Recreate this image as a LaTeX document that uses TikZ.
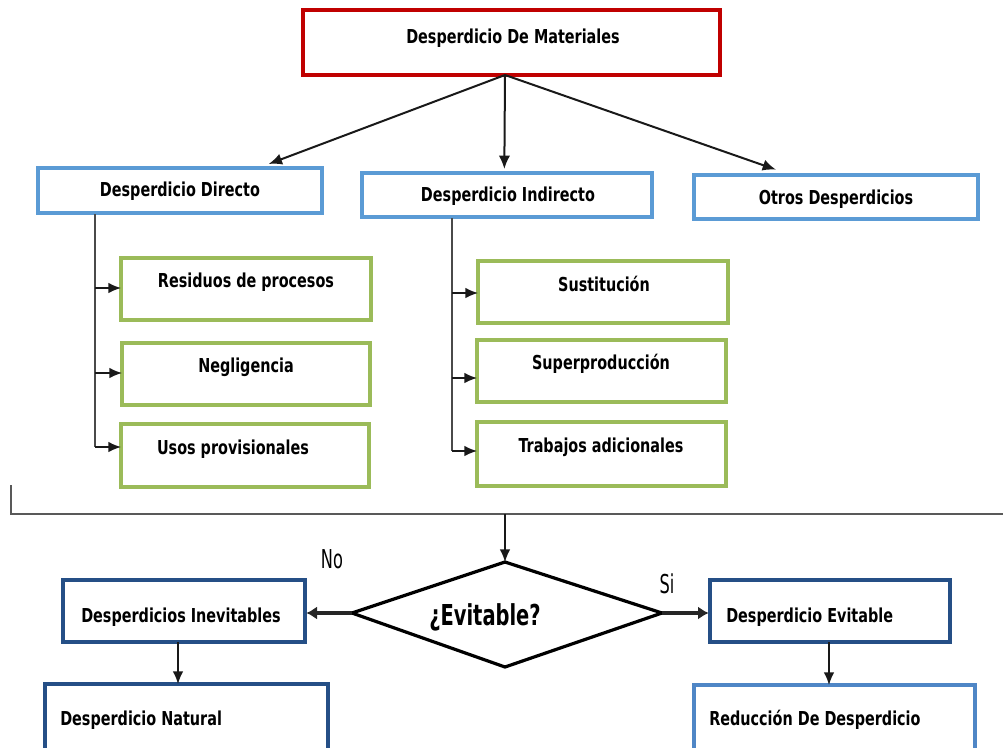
\documentclass[tikz,border=0pt]{standalone}
\usepackage{fontspec}
\usepackage{graphicx}
\setmainfont{DejaVu Sans}
\newfontfamily\condfont{DejaVu Sans Condensed}
\usetikzlibrary{arrows.meta}
\definecolor{topred}{HTML}{C00000}
\definecolor{lblue}{HTML}{5B9BD5}
\definecolor{lgreen}{HTML}{9BBB59}
\definecolor{dblue}{HTML}{254F86}
\definecolor{mblue}{HTML}{4F86C6}
\definecolor{linegray}{HTML}{4A4A4A}
\newcommand{\tall}[1]{\scalebox{1.0}[1.2]{#1}}
\tikzset{
  lbl/.style={font=\condfont\bfseries\fontsize{12}{14}\selectfont, inner sep=0pt},
  bx/.style={rectangle, inner sep=0pt, outer sep=0pt},
  boxred/.style={bx, draw=topred, line width=3pt},
  boxblue/.style={bx, draw=lblue, line width=2.4pt},
  boxgreen/.style={bx, draw=lgreen, line width=2.4pt},
  boxdark/.style={bx, draw=dblue, line width=2.8pt},
  boxmid/.style={bx, draw=mblue, line width=2.4pt},
  arr/.style={-{Latex[length=9.5pt,width=8pt]}, line width=1.2pt, draw=black!90},
  darr/.style={-{Latex[length=10pt,width=8.5pt]}, line width=1.5pt, draw=black!90},
  branch/.style={line width=1.2pt, draw=linegray},
  thickarr/.style={-{Latex[length=8pt,width=10pt]}, line width=3pt, draw=black!85},
}
\newcommand{\bxat}[6]{\node[#1, minimum width={(#4-#2)*0.75pt}, minimum height={(#5-#3)*0.75pt}] (#6) at ({(#2+#4)/2},{(#3+#5)/2}) {};}
\begin{document}
\begin{tikzpicture}[x=0.75pt,y=-0.75pt]
\useasboundingbox (0,0) rectangle (1003,747);
% top
\bxat{boxred}{303}{10}{720}{75}{top}
\node[lbl] (topt) at (513,38) {\tall{Desperdicio De Materiales}};
% level 2
\bxat{boxblue}{38}{168}{322}{213}{dir}
\node[lbl] (dirt) at (180,191) {\tall{Desperdicio Directo}};
\bxat{boxblue}{362}{173}{652}{217}{ind}
\node[lbl] (indt) at (508,196) {\tall{Desperdicio Indirecto}};
\bxat{boxblue}{694}{175}{978}{219}{otr}
\node[lbl] (otrt) at (836,199) {\tall{Otros Desperdicios}};
\coordinate (topb) at (505,75);
\draw[darr] (topb) -- ([xshift=-40pt,yshift=3pt]dir.north east);
\draw[darr] (topb) -- ([xshift=-2pt,yshift=3pt]ind.north);
\draw[darr] (topb) -- ([xshift=-45pt,yshift=4pt]otr.north);
% green left
\bxat{boxgreen}{121}{258}{371}{320}{g1}
\node[lbl] (g1t) at (246,282) {\tall{Residuos de procesos}};
\bxat{boxgreen}{122}{343}{370}{405}{g2}
\node[lbl] (g2t) at (246,367) {\tall{Negligencia}};
\bxat{boxgreen}{121}{424}{369}{487}{g3}
\node[lbl] (g3t) at (233,449) {\tall{Usos provisionales}};
% green right
\bxat{boxgreen}{478}{261}{728}{323}{g4}
\node[lbl] (g4t) at (604,284) {\tall{Sustitución}};
\bxat{boxgreen}{477}{340}{726}{402}{g5}
\node[lbl] (g5t) at (601,364) {\tall{Superproducción}};
\bxat{boxgreen}{477}{422}{726}{486}{g6}
\node[lbl] (g6t) at (601,447) {\tall{Trabajos adicionales}};
% branch lines left
\coordinate (L0) at (95,214);
\coordinate (L1) at (95,288);
\coordinate (L2) at (95,373);
\coordinate (L3) at (95,447);
\draw[branch] (L0) -- (L3);
\draw[arr] (L1) -- (L1 -| g1.west);
\draw[arr] (L2) -- (L2 -| g2.west);
\draw[arr] (L3) -- (L3 -| g3.west);
% branch lines right
\coordinate (R0) at (452,218);
\coordinate (R1) at (452,293);
\coordinate (R2) at (452,378);
\coordinate (R3) at (452,451);
\draw[branch] (R0) -- (R3);
\draw[arr] (R1) -- (R1 -| g4.west);
\draw[arr] (R2) -- (R2 -| g5.west);
\draw[arr] (R3) -- (R3 -| g6.west);
% bracket
\coordinate (bk0) at (11,485);
\coordinate (bk1) at (11,514);
\coordinate (bk2) at (1003,514);
\coordinate (bkm) at (505,514);
\draw[line width=1.3pt, draw=black!65] (bk0) -- (bk1) -- (bk2);
% diamond
\coordinate (dT) at (505,562);
\coordinate (dL) at (352,613);
\coordinate (dR) at (662,613);
\coordinate (dB) at (505,667);
\draw[line width=2.4pt, line join=miter] (dT) -- (dR) -- (dB) -- (dL) -- cycle;
\node[font=\condfont\fontsize{18}{21}\selectfont\bfseries, inner sep=0pt] (ev) at (485,617) {\scalebox{0.9}[1.2]{¿Evitable?}};
\draw[arr] (bkm) -- (dT);
\node[font=\condfont\fontsize{15}{18}\selectfont, inner sep=0pt] (no) at (332,559) {\scalebox{0.9}[1.3]{No}};
\node[font=\condfont\fontsize{15}{18}\selectfont, inner sep=0pt] (si) at (667,584) {\scalebox{0.9}[1.3]{Si}};
% bottom boxes
\bxat{boxdark}{63}{580}{305}{642}{inev}
\node[lbl] (inevt) at (181,617) {\tall{Desperdicios Inevitables}};
\bxat{boxdark}{45}{684}{328}{770}{nat}
\node[lbl, anchor=west] (natt) at (60,720) {\tall{Desperdicio Natural}};
\bxat{boxdark}{710}{580}{950}{642}{evi}
\node[lbl, anchor=west] (evit) at (726,617) {\tall{Desperdicio Evitable}};
\bxat{boxmid}{694}{685}{975}{770}{red}
\node[lbl, anchor=west] (redt) at (709,720) {\tall{Reducción De Desperdicio}};
\draw[thickarr] (dL) -- ([xshift=1pt]dL -| inev.east);
\draw[thickarr] (dR) -- ([xshift=-1pt]dR -| evi.west);
\draw[arr] (178,642) coordinate (inevB) -- (inevB |- nat.north);
\draw[arr] (829,642) coordinate (eviB) -- (eviB |- red.north);
\end{tikzpicture}
\end{document}
